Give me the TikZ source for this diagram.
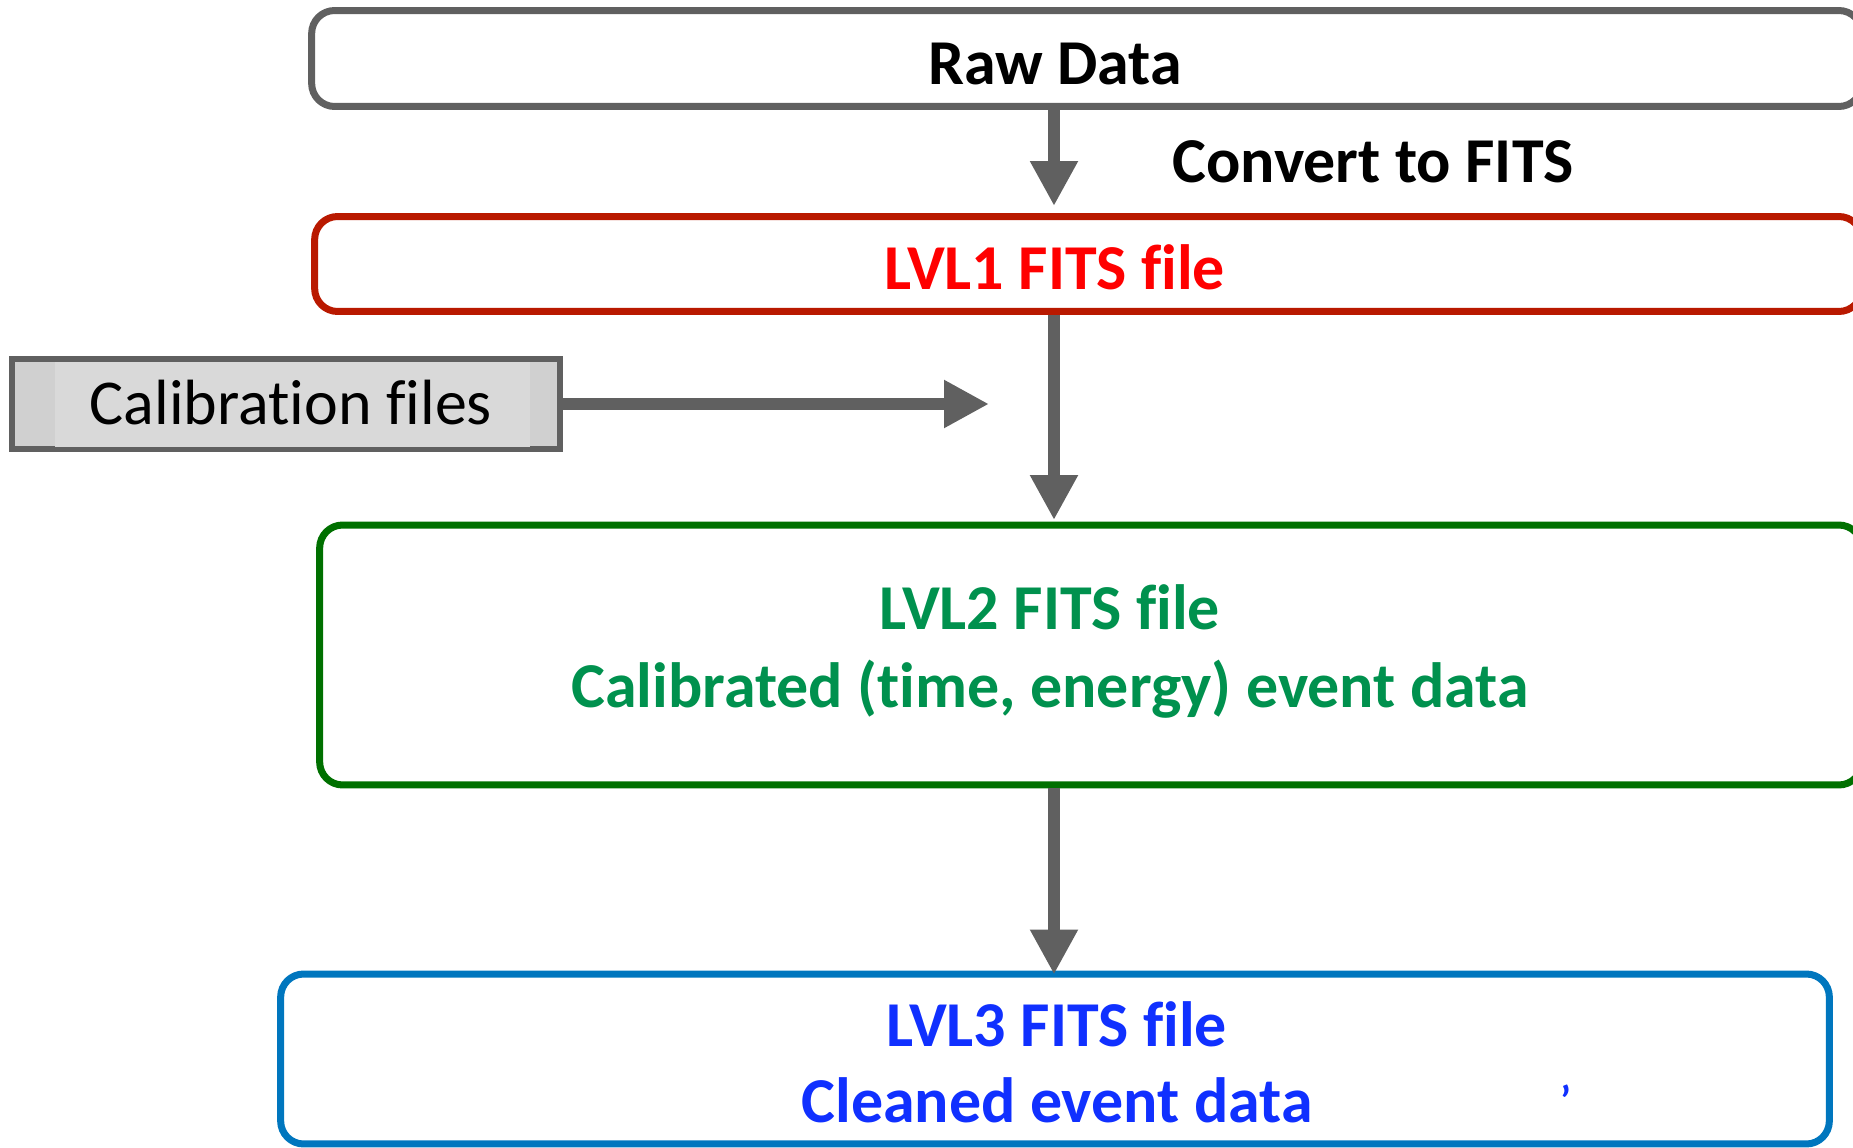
\documentclass[tikz,border=0pt]{standalone}
\usepackage{fontspec}
\setmainfont{Carlito}[Ligatures=NoCommon]
\usetikzlibrary{arrows.meta}
\definecolor{flowgray}{RGB}{96,96,96}
\definecolor{lvlonered}{RGB}{185,25,0}
\definecolor{lvlonetext}{RGB}{255,0,0}
\definecolor{lvltwogreen}{RGB}{0,112,0}
\definecolor{lvltwotext}{RGB}{0,145,78}
\definecolor{lvlthreeblue}{RGB}{0,118,190}
\definecolor{lvlthreetext}{RGB}{16,48,255}
\definecolor{calfill}{RGB}{208,208,208}
\definecolor{calface}{RGB}{217,217,217}
\begin{document}
\begin{tikzpicture}[x=0.02cm,y=-0.02cm,
  levelbox/.style={rectangle,rounded corners=0.46cm,line width=0.14cm,inner sep=0pt},
  flow/.style={draw=flowgray,line width=0.24cm,-{Triangle[length=0.9cm,width=0.9cm]}},
  label/.style={anchor=base,inner sep=0pt,font=\fontsize{36.4}{43}\selectfont\bfseries}]
\useasboundingbox (0,0) rectangle (1853,1148);
% boxes
\node[levelbox,draw=flowgray,minimum width=31.01cm,minimum height=1.92cm] (rawbox) at (1086.75,58.5) {};
\node[levelbox,draw=lvlonered,minimum width=30.95cm,minimum height=1.9cm] (lvlonebox) at (1088.25,264) {};
\node[levelbox,draw=lvltwogreen,minimum width=30.85cm,minimum height=5.2cm] (lvltwobox) at (1090.75,655) {};
\node[levelbox,draw=lvlthreeblue,minimum width=30.98cm,minimum height=3.4cm] (lvlthreebox) at (1055,1059) {};
\node[rectangle,draw=flowgray,fill=calfill,line width=0.12cm,inner sep=0pt,minimum width=10.96cm,minimum height=1.8cm] (calbox) at (286,404) {};
\fill[calface] (55,362) rectangle (530,447);
% texts
\node[label] (rawtext) at (1055,85) {Raw Data};
\node[label] (convtext) at (1373,183) {Convert to FITS};
\node[label,text=lvlonetext] (lvlonetext) at (1055,290) {LVL1 FITS file};
\node[label,font=\fontsize{36.4}{43}\selectfont] (caltext) at (291,425) {Calibration files};
\node[label,text=lvltwotext] (lvltwotext) at (1050,629) {LVL2 FITS file};
\node[label,text=lvltwotext] (lvltwosub) at (1050,707) {Calibrated (time, energy) event data};
\node[label,text=lvlthreetext] (lvlthreetext) at (1057,1046) {LVL3 FITS file};
\node[label,text=lvlthreetext] (lvlthreesub) at (1057,1122) {Cleaned event data};
\node[label,anchor=center,text=lvlthreetext,font=\fontsize{24}{28}\selectfont\bfseries] (stray) at (1566,1100) {’};
% arrows
\coordinate (axis) at (1054,0);
\coordinate (calend) at (989,404);
\draw[flow,shorten >=0.14cm] (rawbox.south -| axis) -- (lvlonebox.north -| axis);
\draw[flow,shorten >=0.03cm] (lvlonebox.south -| axis) -- (lvltwobox.north -| axis);
\draw[flow,shorten >=-0.08cm] (lvltwobox.south -| axis) -- (lvlthreebox.north -| axis);
\draw[flow] (calbox.east) -- (calend);
\end{tikzpicture}
\end{document}
